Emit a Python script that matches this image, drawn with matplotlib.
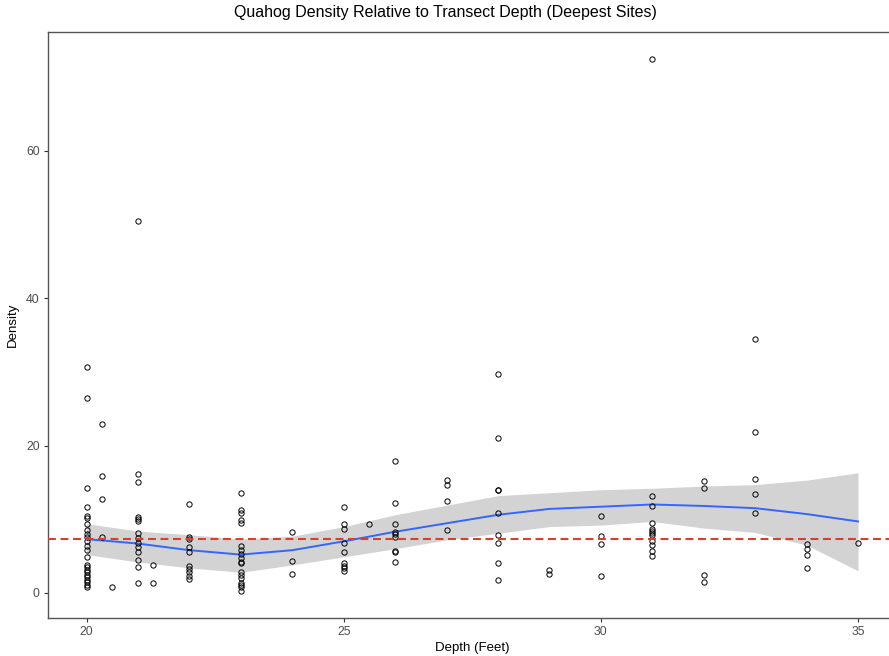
import matplotlib
matplotlib.use("Agg")
import matplotlib.pyplot as plt
import numpy as np

plt.rcParams['font.family'] = ['Liberation Sans', 'DejaVu Sans']

# Observations: depth (feet) and density
dens_20 = [30.6, 26.5, 14.3, 11.6, 10.4, 10.2, 9.4, 8.5, 8.0, 7.6, 7.0, 6.4, 5.8, 4.9,
           3.8, 3.5, 3.1, 2.8, 2.4, 2.1, 1.8, 1.45, 1.1, 0.86]
dens_203 = [22.9, 15.8, 12.8, 7.6]
dens_205 = [0.8]
dens_21 = [50.5, 16.1, 15.1, 10.3, 10.0, 9.7, 8.1, 7.4, 6.8, 6.3, 5.6, 4.5, 3.5, 1.3]
dens_213 = [3.8, 1.3]
dens_22 = [12.1, 7.6, 7.3, 6.3, 5.6, 3.7, 3.2, 2.8, 2.3, 1.9]
dens_23 = [13.6, 11.2, 10.8, 9.9, 9.5, 6.4, 5.8, 5.3, 4.7, 4.25, 4.0,
           2.9, 2.4, 2.0, 1.4, 1.1, 0.8, 0.2]
dens_24 = [8.3, 4.3, 2.6]
dens_25 = [11.6, 9.4, 8.7, 6.8, 5.5, 4.0, 3.7, 3.35, 3.0]
dens_255 = [9.3]
dens_26 = [17.9, 12.2, 9.4, 8.3, 8.0, 7.6, 5.7, 5.5, 4.25]
dens_27 = [15.3, 14.6, 12.5, 8.6]
dens_28 = [29.7, 21.0, 14.0, 13.9, 10.8, 7.9, 6.8, 4.1, 1.7]
dens_29 = [3.1, 2.6]
dens_30 = [10.5, 7.7, 6.7, 2.3]
dens_31 = [72.5, 13.2, 11.8, 9.5, 8.7, 8.4, 8.1, 7.9, 7.1, 6.5, 5.7, 5.0]
dens_32 = [15.2, 14.3, 2.4, 1.5]
dens_33 = [34.5, 21.9, 15.4, 13.4, 10.85]
dens_34 = [6.7, 6.0, 5.1, 3.4]
dens_35 = [6.8]

groups = [(20.0, dens_20), (20.3, dens_203), (20.5, dens_205), (21.0, dens_21),
          (21.3, dens_213), (22.0, dens_22), (23.0, dens_23), (24.0, dens_24),
          (25.0, dens_25), (25.5, dens_255), (26.0, dens_26), (27.0, dens_27),
          (28.0, dens_28), (29.0, dens_29), (30.0, dens_30), (31.0, dens_31),
          (32.0, dens_32), (33.0, dens_33), (34.0, dens_34), (35.0, dens_35)]

# Smoothed fit (loess)
smooth_x = [20, 21, 22, 23, 24, 25, 26, 27, 28, 29, 30, 31, 32, 33, 34, 35]
smooth_y = [7.3, 6.7, 5.8, 5.2, 5.8, 7.0, 8.3, 9.45, 10.6, 11.4, 11.7, 12.0, 11.8, 11.5, 10.7, 9.7]
smooth_lo = [5.2, 4.2, 3.4, 2.8, 3.8, 4.9, 6.0, 7.2, 8.1, 9.0, 9.2, 9.7, 8.8, 8.2, 6.5, 3.0]
smooth_hi = [9.4, 8.4, 7.9, 7.3, 7.7, 9.0, 10.6, 11.9, 13.2, 13.6, 14.0, 14.2, 14.5, 14.7, 15.3, 16.3]
ref_line = 7.3

x_ticks = [20, 25, 30, 35]
y_ticks = [0, 20, 40, 60]

W, H = 889, 656
fig = plt.figure(figsize=(W / 100, H / 100), dpi=100)
ax = fig.add_axes([48 / W, (H - 618) / H, 848.6 / W, 586 / H])

ax.fill_between(smooth_x, smooth_lo, smooth_hi, color='#d3d3d3', lw=0, zorder=1)
ax.plot(smooth_x, smooth_y, color='#3366FF', lw=1.4, zorder=3)

xs = []
ys = []
for d, vals in groups:
    xs.extend([d] * len(vals))
    ys.extend(vals)
ax.plot(xs, ys, linestyle='none', marker='o', markersize=3.8, markerfacecolor='none',
        markeredgecolor='black', markeredgewidth=0.7, zorder=4)

ax.axhline(ref_line, color='#d9402a', lw=1.5, linestyle=(0, (3.8, 2.2)), zorder=5)

ax.set_xlim(19.25, 35.75)
ax.set_ylim(-3.4, 76.1)
ax.set_xticks(x_ticks)
ax.set_yticks(y_ticks)
ax.tick_params(axis='both', colors='#333333', labelcolor='#4d4d4d', labelsize=8.8,
               length=3, width=0.8, pad=3)

for s in ['left', 'bottom', 'top']:
    ax.spines[s].set_color('#555555')
    ax.spines[s].set_linewidth(1.0)
ax.spines['right'].set_visible(False)

ax.set_xlabel('Depth (Feet)', fontsize=9.5, labelpad=3)
ax.set_ylabel('Density', fontsize=9.5, labelpad=5)

fig.text(445 / W, 1 - 13 / H, 'Quahog Density Relative to Transect Depth (Deepest Sites)',
         ha='center', va='center', fontsize=11.5)

fig.savefig('out.png', dpi=100)
